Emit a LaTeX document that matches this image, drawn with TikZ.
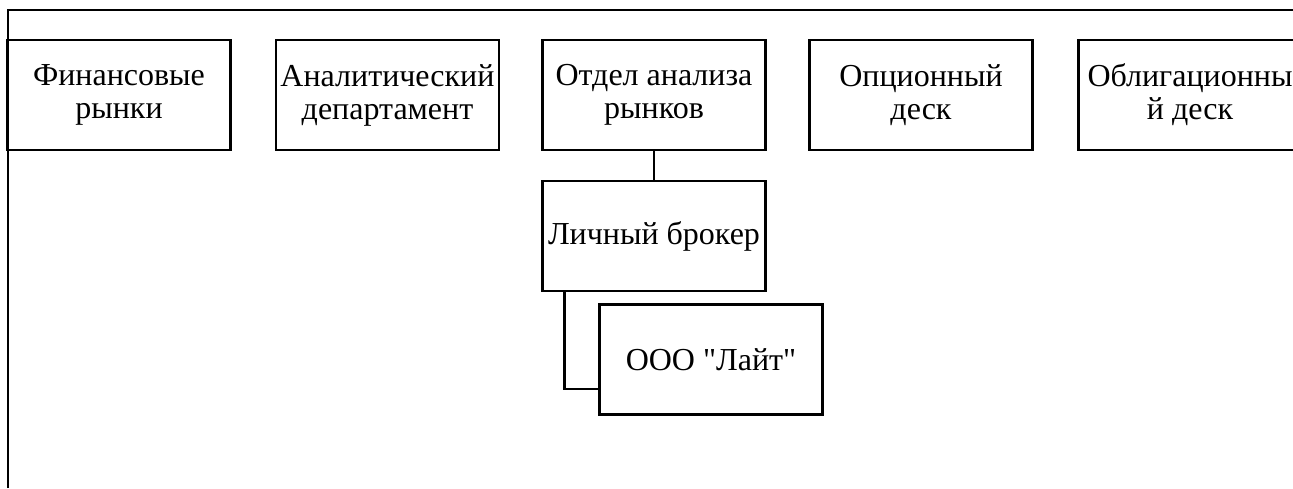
\documentclass[tikz,border=0pt]{standalone}
\usepackage{fontspec}
\setmainfont{Liberation Serif}
\usetikzlibrary{calc}
\tikzset{
  unitbox/.style={draw, line width=2.5pt, minimum width=223pt, minimum height=110pt,
    inner sep=0pt, align=center, font=\fontsize{32}{33}\selectfont},
  link/.style={line width=2.5pt}
}
\begin{document}
\begin{tikzpicture}[x=1pt, y=-1pt]
  \useasboundingbox (0,0) rectangle (1293,488);
  \clip (0,0) rectangle (1293,488);
  % outer frame
  \draw[line width=1.8pt] (8,488) -- (8,10) -- (1300,10);
  % top row of units
  \node[unitbox] (fin) at (119,95) {Финансовые\\рынки};
  \node[unitbox] (anal) at (387.5,95) {Аналитический\\департамент};
  \node[unitbox] (otd) at (654,95) {Отдел анализа\\рынков};
  \node[unitbox] (opt) at (921,95) {Опционный\\деск};
  \node[unitbox] (obl) at (1190,95) {Облигационны\\й деск};
  % subordinate units
  \node[unitbox] (brk) at (654,236) {Личный брокер};
  \node[unitbox] (lait) at (711,359.5) {ООО \textquotedbl Лайт\textquotedbl};
  % connectors
  \draw[link] (otd.south) -- (brk.north);
  \coordinate (brkdrop) at ($(brk.south west)+(23,0)$);
  \coordinate (laitin) at ($(lait.south west)+(0,-27)$);
  \draw[link] (brkdrop) |- (laitin);
\end{tikzpicture}
\end{document}
